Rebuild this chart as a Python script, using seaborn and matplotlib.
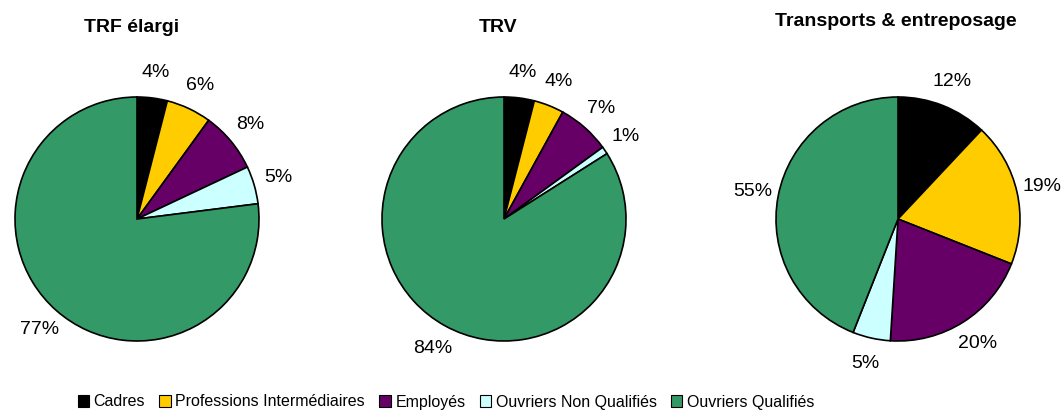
import matplotlib
matplotlib.use('Agg')
import matplotlib.pyplot as plt
from matplotlib.patches import Patch
import seaborn as sns

# Categories and colours
categories = ['Cadres', 'Professions Intermédiaires', 'Employés',
              'Ouvriers Non Qualifiés', 'Ouvriers Qualifiés']
colors = sns.color_palette(['#000000', '#FFCC00', '#660066', '#CCFFFF', '#339966'])

# Pie data (wedge shares as drawn) and printed labels
titles = ['TRF élargi', 'TRV', 'Transports & entreposage']
trf_values = [4, 6, 8, 5, 77]
trf_labels = ['4%', '6%', '8%', '5%', '77%']
trv_values = [4, 4, 7, 1, 84]
trv_labels = ['4%', '4%', '7%', '1%', '84%']
te_values = [12, 19, 20, 5, 44]
te_labels = ['12%', '19%', '20%', '5%', '55%']

sns.set_theme(style='white')
plt.rcParams['font.family'] = ['Liberation Sans', 'DejaVu Sans']
plt.rcParams['text.color'] = 'black'

W, H = 1061, 412
fig = plt.figure(figsize=(W / 100, H / 100), dpi=100)

R = 122  # pie radius in px
centers = [(137, 219), (504, 219), (898, 219)]
title_pos = [(132, 28), (498, 28), (896, 22)]
series = [(trf_values, trf_labels), (trv_values, trv_labels), (te_values, te_labels)]

for (cx, cy), (tx, ty), title, (vals, labs) in zip(centers, title_pos, titles, series):
    half = 1.25 * R
    ax = fig.add_axes([(cx - half) / W, (H - cy - half) / H, 2 * half / W, 2 * half / H])
    wedges, texts = ax.pie(vals, labels=labs, colors=colors, startangle=90,
                           counterclock=False, labeldistance=1.21,
                           wedgeprops=dict(edgecolor='black', linewidth=1.2),
                           textprops=dict(fontsize=14, color='black'))
    for t in texts:
        t.set_ha('center')
        t.set_va('center')
        t.set_clip_on(False)
    ax.set_xlim(-1.25, 1.25)
    ax.set_ylim(-1.25, 1.25)
    fig.text(tx / W, 1 - ty / H, title, ha='center', va='center',
             fontsize=14, fontweight='bold', color='black')

handles = [Patch(facecolor=c, edgecolor='black', linewidth=0.8) for c in colors]
fig.legend(handles, categories, loc='center', bbox_to_anchor=(446 / W, 1 - 402 / H),
           ncol=5, frameon=False, handlelength=0.7, handleheight=0.7,
           handletextpad=0.3, columnspacing=0.9, prop=dict(size=11.5),
           labelcolor='black')

fig.savefig('out.png', dpi=100)
